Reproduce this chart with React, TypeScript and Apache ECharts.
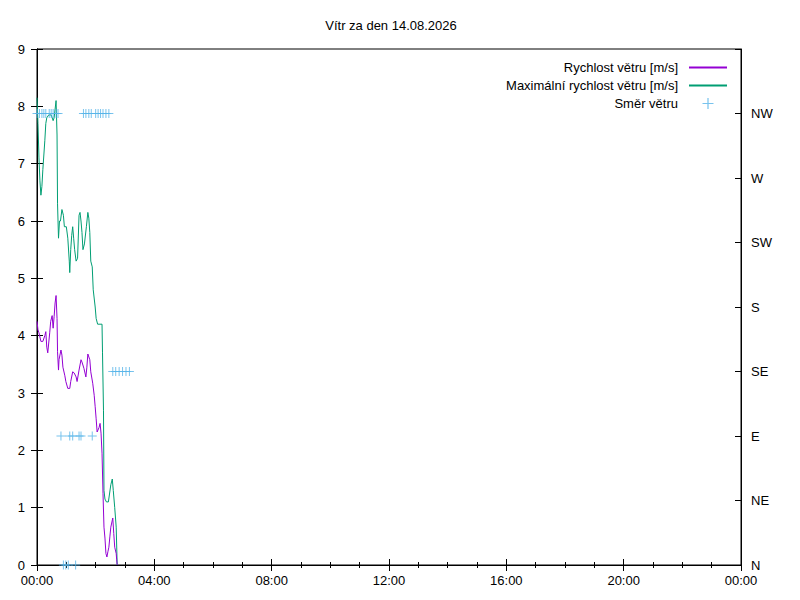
import React, { useEffect, useRef } from "react";
import * as echarts from "echarts";

const titleText = "Vítr za den 14.08.2026";
const speedName = "Rychlost větru [m/s]";
const gustName = "Maximální rychlost větru [m/s]";
const dirName = "Směr větru";

const compass = ["N", "NE", "E", "SE", "S", "SW", "W", "NW"];

// minutes after midnight
const speedTimes = [0, 2, 4, 8, 12, 16, 18, 20, 22, 26, 28, 31, 33, 35, 37, 39, 41, 42, 44, 45, 49, 51, 53, 57, 59, 63, 67, 69, 73, 76, 80, 82, 86, 90, 92, 96, 100, 102, 104, 108, 110, 114, 117, 119, 121, 123, 127, 129, 131, 133, 135, 137, 139, 141, 143, 145, 147, 149, 151, 155, 157, 159, 162, 163, 164];
const speedValues = [4.25, 4.1, 4.05, 3.9, 3.9, 4.0, 4.07, 3.8, 3.7, 4.05, 4.25, 4.35, 4.13, 4.33, 4.57, 4.7, 4.3, 3.72, 3.4, 3.58, 3.75, 3.66, 3.45, 3.3, 3.2, 3.08, 3.08, 3.2, 3.37, 3.35, 3.28, 3.2, 3.4, 3.58, 3.54, 3.43, 3.28, 3.45, 3.68, 3.58, 3.37, 3.17, 2.96, 2.76, 2.55, 2.32, 2.4, 2.47, 2.3, 1.95, 1.25, 0.66, 0.47, 0.2, 0.14, 0.23, 0.31, 0.49, 0.66, 0.82, 0.55, 0.31, 0.2, 0.09, 0];

const gustTimes = [0, 2, 4, 6, 8, 10, 12, 16, 18, 20, 24, 29, 33, 35, 39, 41, 42, 44, 46, 48, 51, 54, 56, 60, 63, 66, 67, 69, 71, 73, 75, 77, 80, 83, 86, 88, 90, 92, 94, 97, 101, 104, 106, 108, 110, 113, 115, 119, 121, 124, 133, 134, 136, 137, 139, 142, 146, 151, 154, 156, 159, 162, 164];
const gustValues = [8.15, 7.7, 7.1, 6.7, 6.45, 6.6, 6.9, 7.4, 7.7, 7.8, 7.85, 7.85, 7.75, 7.8, 8.1, 7.5, 6.3, 5.7, 6.0, 6.0, 6.2, 6.1, 5.9, 5.9, 5.7, 5.3, 5.1, 5.5, 5.75, 5.9, 5.7, 5.5, 5.3, 5.35, 6.1, 6.15, 6.0, 5.8, 5.5, 5.6, 5.9, 6.15, 6.05, 5.8, 5.3, 5.2, 4.8, 4.5, 4.3, 4.2, 4.2, 3.7, 2.7, 1.3, 1.15, 1.1, 1.1, 1.4, 1.5, 1.3, 1.0, 0.66, 0];

const dirTimes = [0, 5, 10, 14, 18, 25, 29, 33, 39, 43, 49, 54, 59, 64, 67, 73, 79, 86, 90, 95, 100, 106, 111, 113, 120, 125, 130, 135, 141, 147, 155, 161, 168, 175, 182, 189];
const dirValues = ["NW", "NW", "NW", "NW", "NW", "NW", "NW", "NW", "NW", "NW", "E", "N", "N", "N", "E", "E", "N", "E", "E", "NW", "NW", "NW", "NW", "E", "NW", "NW", "NW", "NW", "NW", "NW", "SE", "SE", "SE", "SE", "SE", "SE"];

const speedColor = "#9400d3";
const gustColor = "#009e73";
const dirColor = "#56b4e9";

const xTickStep = 240;
const dayMinutes = 1440;

const pad = (n: number) => (n < 10 ? "0" + n : "" + n);
const fmtTime = (v: number) => pad(Math.floor(v / 60) % 24) + ":" + pad(v % 60);

const plusPath = "path://M4,0h1v4h4v1h-4v4h-1v-4h-4v-1h4z";

const FONT = "Liberation Sans, Arial, sans-serif";
const FS = 13;

export default function App() {
  const ref = useRef<HTMLDivElement>(null);
  useEffect(() => {
    if (!ref.current) return;
    const chart = echarts.init(ref.current, undefined, { renderer: "svg" });
    const black = "#000";
    const tickIn = { show: true, inside: true, length: 6, lineStyle: { color: black, width: 1 } };
    const minorIn = { show: true, splitNumber: 4, length: 3, lineStyle: { color: black, width: 1 } };
    const axisLine = { show: true, lineStyle: { color: black, width: 1 } };
    const lbl = { color: black, fontSize: FS, fontFamily: FONT };
    const hiddenDot = { color: "rgba(0,0,0,0)", opacity: 0, borderWidth: 0 };
    chart.setOption({
      animation: false,
      backgroundColor: "#fff",
      textStyle: { fontFamily: FONT },
      title: {
        text: titleText,
        left: 386,
        textAlign: "center",
        top: 14,
        textStyle: { fontSize: FS, fontWeight: "normal", color: black, fontFamily: FONT },
      },
      legend: {
        orient: "vertical",
        right: 67,
        top: 56,
        align: "right",
        itemWidth: 38,
        itemHeight: 11,
        itemGap: 5,
        textStyle: { fontSize: FS, color: black, fontFamily: FONT, padding: [0, 6, 0, 0] },
        data: [
          { name: speedName, itemStyle: hiddenDot },
          { name: gustName, itemStyle: hiddenDot },
          { name: dirName },
        ],
      },
      grid: {
        left: 37,
        right: 59,
        top: 49,
        bottom: 35,
        show: true,
        borderColor: black,
        borderWidth: 1,
      },
      xAxis: [
        {
          type: "value",
          position: "bottom",
          min: 0,
          max: dayMinutes,
          interval: xTickStep,
          axisLine,
          axisTick: tickIn,
          minorTick: minorIn,
          splitLine: { show: false },
          axisLabel: { ...lbl, margin: 9, formatter: (v: number) => fmtTime(v) },
        },
        {
          type: "value",
          position: "top",
          min: 0,
          max: dayMinutes,
          interval: xTickStep,
          axisLine,
          axisTick: tickIn,
          minorTick: minorIn,
          splitLine: { show: false },
          axisLabel: { show: false },
        },
      ],
      yAxis: [
        {
          type: "value",
          position: "left",
          min: 0,
          max: 9,
          interval: 1,
          axisLine,
          axisTick: tickIn,
          splitLine: { show: false },
          axisLabel: { ...lbl, margin: 12 },
        },
        {
          type: "value",
          position: "right",
          min: 0,
          max: 9,
          interval: 1,
          axisLine,
          axisTick: tickIn,
          splitLine: { show: false },
          axisLabel: { show: false },
        },
        {
          type: "value",
          position: "right",
          min: 0,
          max: 360,
          interval: 45,
          axisLine,
          axisTick: tickIn,
          splitLine: { show: false },
          axisLabel: {
            ...lbl,
            margin: 10,
            formatter: (v: number) => (v >= 360 ? "" : compass[Math.round(v / 45)]),
          },
        },
      ],
      series: [
        {
          name: speedName,
          type: "line",
          xAxisIndex: 0,
          yAxisIndex: 0,
          smooth: false,
          showSymbol: false,
          symbol: "none",
          color: speedColor,
          lineStyle: { color: speedColor, width: 1 },
          data: speedTimes.map((t, i) => [t, speedValues[i]]),
          z: 3,
        },
        {
          name: gustName,
          type: "line",
          xAxisIndex: 0,
          yAxisIndex: 0,
          smooth: false,
          showSymbol: false,
          symbol: "none",
          color: gustColor,
          lineStyle: { color: gustColor, width: 1 },
          data: gustTimes.map((t, i) => [t, gustValues[i]]),
          z: 2,
        },
        {
          name: dirName,
          type: "scatter",
          xAxisIndex: 0,
          yAxisIndex: 2,
          symbol: plusPath,
          symbolSize: 9,
          symbolKeepAspect: true,
          color: dirColor,
          itemStyle: { color: dirColor },
          data: dirTimes.map((t, i) => [t, compass.indexOf(dirValues[i]) * 45]),
          z: 4,
        },
      ],
    });
    return () => chart.dispose();
  }, []);
  return (
    <div
      ref={ref}
      style={{ position: "fixed", left: 0, top: 0, width: 800, height: 600, background: "#fff" }}
    />
  );
}
